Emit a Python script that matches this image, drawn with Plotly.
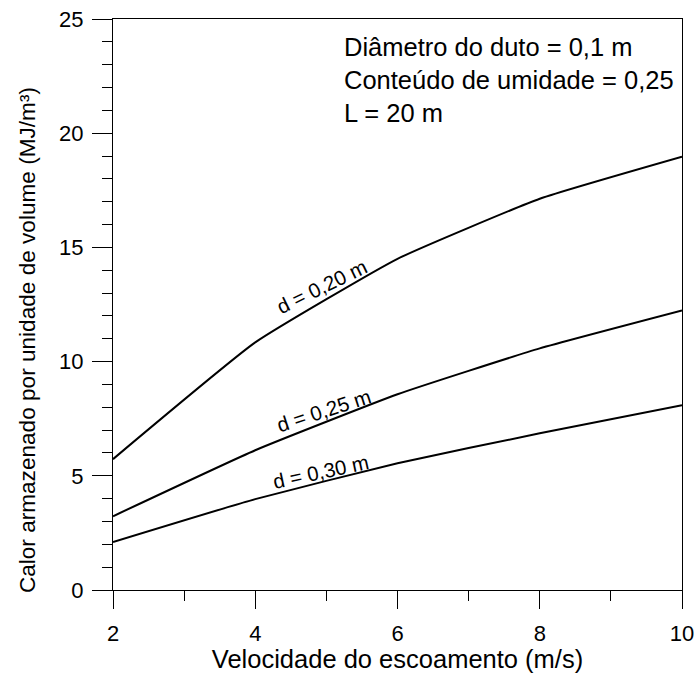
import plotly.graph_objects as go

# Flow velocity (m/s)
velocidade = [2, 4, 6, 8, 10]

# Stored heat per unit volume (MJ/m³) for each duct spacing d
calor_d020 = [5.73, 10.84, 14.50, 17.13, 18.97]
calor_d025 = [3.23, 6.12, 8.57, 10.58, 12.24]
calor_d030 = [2.10, 3.98, 5.55, 6.86, 8.09]

curve_labels = ["d = 0,20 m", "d = 0,25 m", "d = 0,30 m"]
series = [calor_d020, calor_d025, calor_d030]

x_ticks = [2, 4, 6, 8, 10]
y_ticks = [0, 5, 10, 15, 20, 25]

info_lines = [
    "Diâmetro do duto = 0,1 m",
    "Conteúdo de umidade = 0,25",
    "L = 20 m",
]

FONT = "Liberation Sans, Arial, sans-serif"
FS_TICK = 22
FS_TEXT = 25.5

fig = go.Figure()
for name, vals in zip(curve_labels, series):
    fig.add_trace(go.Scatter(
        x=velocidade, y=vals, mode="lines", name=name,
        line=dict(color="black", width=2, shape="spline", smoothing=0.4),
        showlegend=False, hoverinfo="x+y",
    ))

# Inline curve labels, rotated along each line
label_pos = [(4.93, 13.29, -26), (4.96, 7.87, -18), (4.92, 5.2, -12)]
for text, (lx, ly, ang) in zip(curve_labels, label_pos):
    fig.add_annotation(x=lx, y=ly, xref="x", yref="y", text=text,
                       showarrow=False, textangle=ang,
                       font=dict(family=FONT, size=20.5, color="black"))

# Parameter block at top right
for text, py in zip(info_lines, [0.951, 0.893, 0.835]):
    fig.add_annotation(x=0.4025, y=py, xref="paper", yref="paper", text=text,
                       showarrow=False, xanchor="left", yanchor="middle",
                       font=dict(family=FONT, size=FS_TEXT, color="black"))

# Y-axis title
fig.add_annotation(x=-0.149, y=0.438, xref="paper", yref="paper",
                   text="Calor armazenado por unidade de volume (MJ/m³)",
                   showarrow=False, textangle=-90,
                   xanchor="center", yanchor="middle",
                   font=dict(family=FONT, size=22.6, color="black"))

fig.update_layout(
    width=697, height=673,
    margin=dict(l=113, r=15, t=19, b=83, autoexpand=False),
    paper_bgcolor="white", plot_bgcolor="white",
    font=dict(family=FONT, size=FS_TICK, color="black"),
    xaxis=dict(
        range=[2, 10], tickvals=x_ticks, ticks="outside", ticklen=18,
        tickwidth=1, tickcolor="black", automargin=False,
        showline=True, linecolor="black", linewidth=1, mirror=True,
        showgrid=False, zeroline=False, ticklabelstandoff=6,
        tickfont=dict(family=FONT, size=FS_TICK),
        minor=dict(dtick=1, tick0=2, ticks="outside", ticklen=10,
                   tickcolor="black", tickwidth=1, showgrid=False),
        title=dict(text="Velocidade do escoamento (m/s)",
                   font=dict(family=FONT, size=FS_TEXT), standoff=0),
    ),
    yaxis=dict(
        range=[0, 25], tickvals=y_ticks, ticks="outside", ticklen=20,
        tickwidth=1, tickcolor="black", automargin=False,
        showline=True, linecolor="black", linewidth=1, mirror=True,
        showgrid=False, zeroline=False, ticklabelstandoff=4,
        tickfont=dict(family=FONT, size=FS_TICK),
    ),
)
fig.update_yaxes(minor=dict(dtick=1, tick0=0, ticks="outside", ticklen=10,
                            tickcolor="black", tickwidth=1, showgrid=False))

fig.write_html("out.html")
